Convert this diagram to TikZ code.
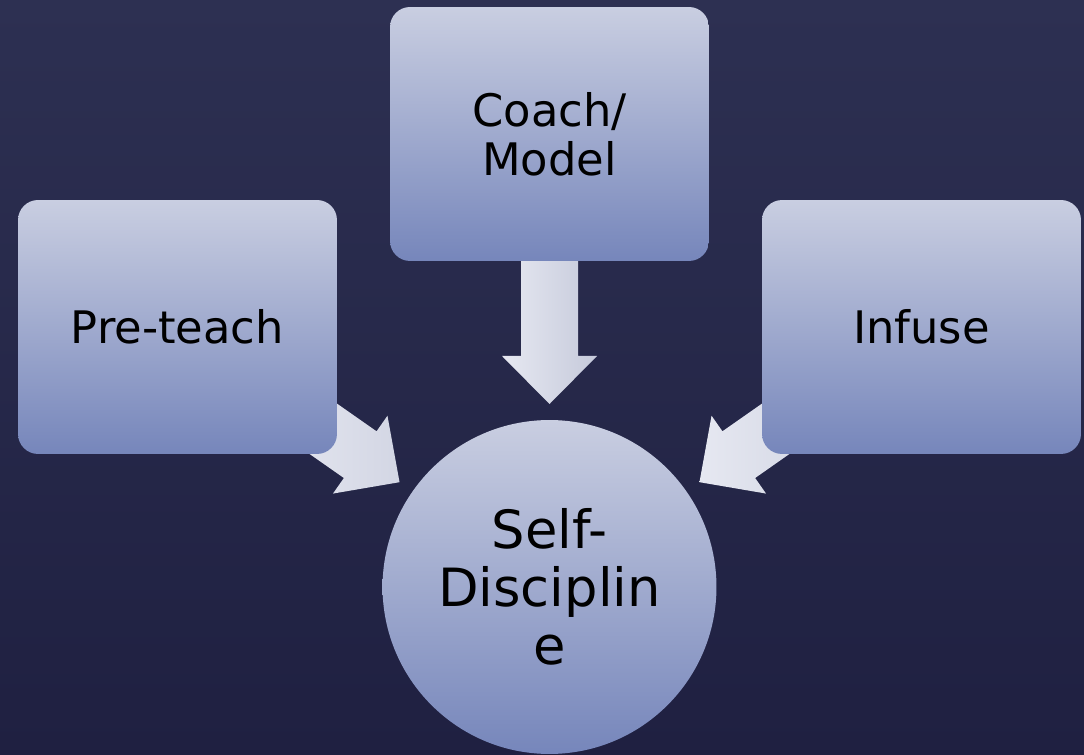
\documentclass[tikz,border=0pt]{standalone}
\usepackage{fontspec}
\setmainfont{DejaVu Sans}
\usetikzlibrary{calc}
\definecolor{Night}{HTML}{2D3052}
\definecolor{NightDeep}{HTML}{1F2041}
\definecolor{Haze}{HTML}{C9CEE1}
\definecolor{Slate}{HTML}{7686BB}
\definecolor{Mist}{HTML}{E6E8F1}
\definecolor{MistDark}{HTML}{C6CADB}

\tikzset{
  stepbox/.style={rounded corners=0.4cm,top color=Haze,bottom color=Slate,
    minimum width=6.38cm,minimum height=5.08cm,inner sep=0pt,align=center,
    font=\fontsize{25.5}{28}\selectfont},
  hub/.style={circle,top color=Haze,bottom color=Slate,minimum size=6.68cm,
    inner sep=0pt,align=center,font=\fontsize{30}{33}\selectfont},
  blockarrow/.pic={
    \path[pic actions] (0,0) -- (-48,47.5) -- (-48,28.5) -- (-143,28.5)
      -- (-143,-28.5) -- (-48,-28.5) -- (-48,-47.5) -- cycle;
  }
}

\begin{document}
\begin{tikzpicture}[x=0.02cm,y=0.02cm]
  \shade[top color=Night,bottom color=NightDeep] (0,0) rectangle (1084,754);
  \useasboundingbox (0,0) rectangle (1084,754);

  \node[hub] (self) at (549.5,167) {Self-\\Disciplin\\e};
  \coordinate (pre) at (177.5,427);
  \coordinate (inf) at (921.5,427);

  % arrow tips stop just short of the hub
  \coordinate (tipC) at ($(self.center)+(90:183)$);
  \coordinate (tipL) at ($(self.center)!3.66cm!(pre)$);
  \coordinate (tipR) at ($(self.center)!3.66cm!(inf)$);

  \pic[rotate=-90,left color=Mist,right color=MistDark] at (tipC) {blockarrow};
  \pic[rotate=-35,left color=Mist,right color=MistDark!60!Mist] at (tipL) {blockarrow};
  \pic[rotate=215,left color=Mist,right color=MistDark!60!Mist] at (tipR) {blockarrow};

  \node[stepbox] (coach) at (549.5,620) {Coach/\\Model};
  \node[stepbox] (preteach) at (pre) {Pre-teach};
  \node[stepbox] (infuse) at (inf) {Infuse};
\end{tikzpicture}
\end{document}
